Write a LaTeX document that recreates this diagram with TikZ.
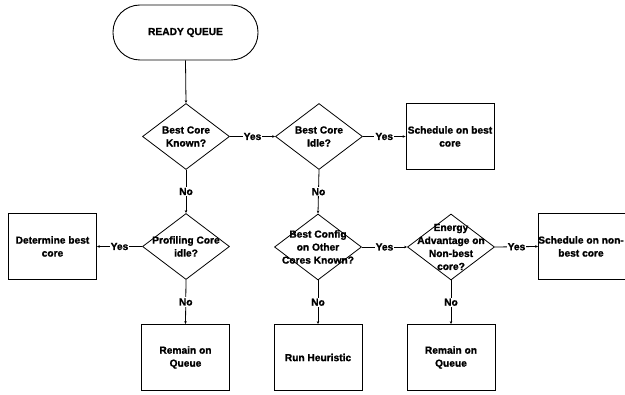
\documentclass[tikz,border=0pt]{standalone}
\usepackage{fontspec}
\setmainfont{Liberation Sans}[BoldFeatures={FakeBold=1.2}]
\usetikzlibrary{shapes.geometric,arrows.meta}
\begin{document}
\begin{tikzpicture}[x=1pt,y=-1pt,
  every node/.style={font=\bfseries\fontsize{10.2}{13}\selectfont},
  stad/.style={draw, line width=0.9pt, rounded corners=27pt, minimum width=145pt, minimum height=55pt, inner sep=0pt},
  dia/.style={draw, line width=0.8pt, shape=diamond, minimum width=87pt, minimum height=66pt, inner sep=0pt, aspect=1.3},
  boxx/.style={draw, line width=0.8pt, minimum width=88pt, minimum height=66pt, inner sep=0pt},
  txt/.style={align=center, inner sep=0pt},
  lab/.style={fill=white, inner sep=1pt},
  conn/.style={line width=0.8pt, -{Stealth[length=3pt,width=2.5pt]}}
]
\clip (0,0) rectangle (625,395);
\fill[white] (0,0) rectangle (625,395);

\node[stad] (rq) at (185.5,32.5) {READY QUEUE};

\node[dia] (d1) at (186,136.5) {};
\node[txt] (t1) at (d1) {Best Core\\Known?};
\node[dia] (d2) at (319,136.5) {};
\node[txt] (t2) at (d2) {Best Core\\Idle?};
\node[boxx] (b1) at (450,136.5) {};
\node[txt] (tb1) at (b1) {Schedule on best\\core};

\node[dia] (d3) at (186,246.5) {};
\node[txt] (t3) at (d3) {Profiling Core\\idle?};
\node[boxx] (b2) at (52.5,246.5) {};
\node[txt] (tb2) at (b2) {Determine best\\core};

\node[dia] (d4) at (318,247) {};
\node[txt] (t4) at (d4) {Best Config\\on Other\\Cores Known?};
\node[dia] (d5) at (451,247) {};
\node[txt] (t5) at (d5) {Energy\\Advantage on\\Non-best\\core?};
\node[boxx] (b3) at (582.5,246.5) {};
\node[txt] (tb3) at (581,246.5) {Schedule on non-\\best core};

\node[boxx] (b4) at (185.5,357.5) {};
\node[txt] (tb4) at (b4) {Remain on\\Queue};
\node[boxx] (b5) at (318,357.5) {};
\node[txt] (tb5) at (b5) {Run Heuristic};
\node[boxx] (b6) at (451,357.5) {};
\node[txt] (tb6) at (b6) {Remain on\\Queue};

\draw[conn] (rq.south) -- (d1.north);
\draw[conn] (d1.east) -- node[lab] (y1) {Yes} (d2.west);
\draw[conn] (d2.east) -- node[lab] (y2) {Yes} (b1.west);
\draw[conn] (d1.south) -- node[lab] (n1) {No} (d3.north);
\draw[conn] (d2.south) -- node[lab] (n2) {No} (d4.north);
\draw[conn] (d3.west) -- node[lab] (y3) {Yes} (b2.east);
\draw[conn] (d4.east) -- node[lab] (y4) {Yes} (d5.west);
\draw[conn] (d5.east) -- node[lab] (y5) {Yes} (b3.west);
\draw[conn] (d3.south) -- node[lab] (n3) {No} (b4.north);
\draw[conn] (d4.south) -- node[lab] (n4) {No} (b5.north);
\draw[conn] (d5.south) -- node[lab] (n5) {No} (b6.north);
\end{tikzpicture}
\end{document}
